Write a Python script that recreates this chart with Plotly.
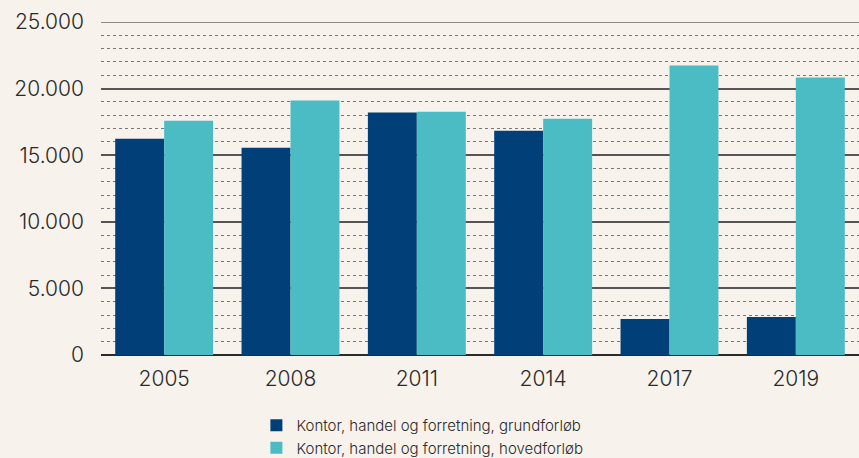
import plotly.graph_objects as go

years = ["2005", "2008", "2011", "2014", "2017", "2019"]
grund = [16240, 15560, 18200, 16840, 2710, 2860]
hoved = [17590, 19100, 18270, 17740, 21730, 20830]
names = ["Kontor, handel og forretning, grundforløb",
         "Kontor, handel og forretning, hovedforløb"]
colors = ["#003f77", "#4bbbc4"]
bg = "#f7f2ec"
ymax = 25000

fig = go.Figure()
fig.add_bar(x=years, y=grund, name=names[0], marker_color=colors[0], marker_line_width=0)
fig.add_bar(x=years, y=hoved, name=names[1], marker_color=colors[1], marker_line_width=0)

fig.add_shape(type="line", xref="paper", yref="y", x0=0, x1=1, y0=ymax, y1=ymax,
              line=dict(color="#666666", width=1.5), layer="below")

fig.update_layout(
    width=859, height=458,
    paper_bgcolor=bg, plot_bgcolor=bg,
    barmode="group", bargap=0.225, bargroupgap=0,
    margin=dict(l=101, r=0, t=22, b=103),
    separators=",.",
    font=dict(family="Inter, Lato, sans-serif", color="#2a2a2a", weight=300),
    legend=dict(orientation="v", xref="paper", yref="container", x=0.205, y=0.107,
                xanchor="left", yanchor="top",
                font=dict(size=15, color="#2a2a2a", weight=300), bgcolor="rgba(0,0,0,0)",
                tracegroupgap=0),
    showlegend=True,
)
fig.update_xaxes(showgrid=False, showline=False, ticks="", automargin=False,
                 ticklabelstandoff=9,
                 tickfont=dict(size=21, color="#2a2a2a", weight=300))
fig.update_yaxes(range=[0, ymax], tickvals=[0, 5000, 10000, 15000, 20000, 25000],
                 tickformat=",d", showgrid=True, gridcolor="#555555", gridwidth=1.5,
                 zeroline=True, zerolinecolor="#2a2a2a", zerolinewidth=2, automargin=False,
                 tickfont=dict(size=21, color="#2a2a2a", weight=300), ticks="", ticklabelstandoff=16,
                 minor=dict(dtick=1000, showgrid=True, gridcolor="#777777",
                            griddash="dot", gridwidth=1))

fig.write_html("out.html", config={"displayModeBar": False},
               post_script="document.body.style.margin='0';document.body.style.overflow='hidden';")
